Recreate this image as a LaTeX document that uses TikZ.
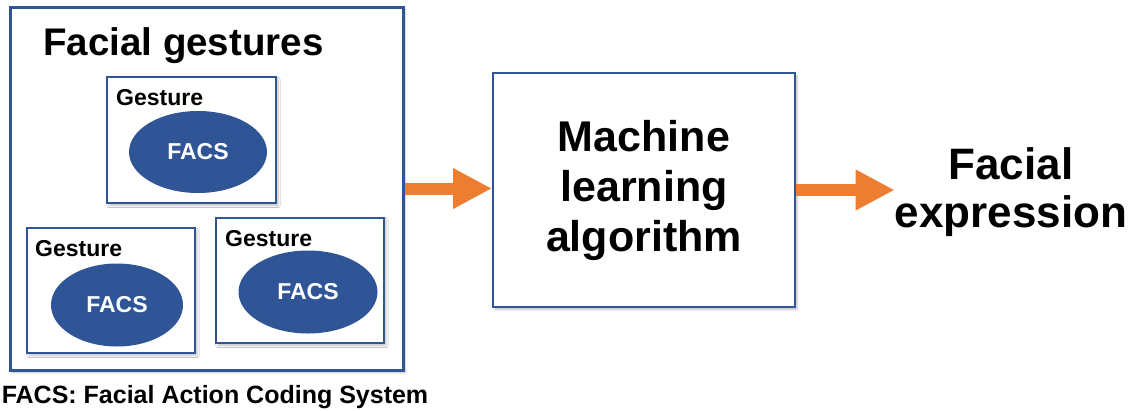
\documentclass[tikz,border=0pt]{standalone}
\usepackage{fontspec}
\setmainfont{Liberation Sans}
\usetikzlibrary{arrows.meta,shapes.geometric,shadows.blur}
\definecolor{oblue}{HTML}{2F5597}
\definecolor{oorange}{HTML}{ED7D31}
\begin{document}
\begin{tikzpicture}[x=1pt,y=-1pt,
  shade/.style={blur shadow={shadow blur steps=6, shadow xshift=2pt, shadow yshift=-2.5pt, shadow opacity=25}},
  bigbox/.style={draw=oblue, line width=3pt, fill=white, rectangle, inner sep=0pt, shade},
  gbox/.style={draw=oblue, line width=1.6pt, fill=white, rectangle, inner sep=0pt, shade},
  facs/.style={ellipse, fill=oblue, draw=none, inner sep=0pt, text=white, font=\bfseries\fontsize{23}{23}\selectfont},
  glabel/.style={anchor=base west, inner sep=0pt, font=\bfseries\fontsize{23}{23}\selectfont},
  flow/.style={draw=oorange, line width=12pt, line cap=butt, -{Triangle[width=38pt,length=39pt]}},
  big/.style={font=\bfseries\fontsize{43}{50}\selectfont, align=center}
]
\useasboundingbox (0,0) rectangle (1136,410);

% left container
\node[bigbox, minimum width=393pt, minimum height=363pt] (outer) at (206.5,188.5) {};
\node[anchor=base west, inner sep=0pt, font=\bfseries\fontsize{38.5}{40}\selectfont] (title) at (43,55) {Facial gestures};

% gesture boxes
\node[gbox, minimum width=169pt, minimum height=126pt] (g1) at (191.5,140) {};
\node[gbox, minimum width=168pt, minimum height=125pt] (g2) at (111,290.5) {};
\node[gbox, minimum width=168pt, minimum height=125pt] (g3) at (300,280.5) {};

\node[glabel] (l1) at (116,105) {Gesture};
\node[glabel] (l2) at (35,256) {Gesture};
\node[glabel] (l3) at (225,246) {Gesture};

\node[facs, minimum width=138pt, minimum height=82pt] (e1) at (198,152) {FACS};
\node[facs, minimum width=132pt, minimum height=83pt] (e2) at (117,305) {FACS};
\node[facs, minimum width=139pt, minimum height=83pt] (e3) at (308,292) {FACS};

\node[anchor=base, inner sep=0pt, font=\bfseries\fontsize{25}{25}\selectfont] (cap) at (215,403) {FACS: Facial Action Coding System};

% machine learning box
\node[gbox, line width=2pt, minimum width=302pt, minimum height=234pt, big] (ml) at (644,190) {Machine\\learning\\algorithm};

% output
\node[big, font=\bfseries\fontsize{44}{48}\selectfont, inner sep=0pt] (fe) at (1011,192) {Facial\\expression};

% arrows
\draw[flow] (outer.east) -- (outer.east -| ml.west);
\draw[flow] (ml.east) -- (ml.east -| fe.west);
\end{tikzpicture}
\end{document}
